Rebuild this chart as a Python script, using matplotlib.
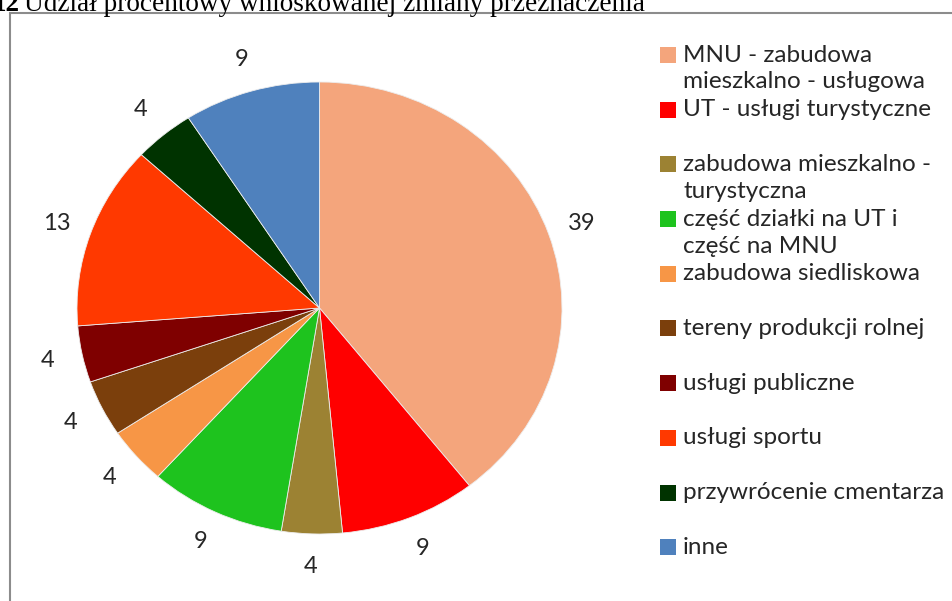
import matplotlib
matplotlib.use("Agg")
import matplotlib.pyplot as plt
from matplotlib.patches import Rectangle

categories = [
    "MNU - zabudowa\nmieszkalno - usługowa",
    "UT - usługi turystyczne",
    "zabudowa mieszkalno -\nturystyczna",
    "część działki na UT i\nczęść na MNU",
    "zabudowa siedliskowa",
    "tereny produkcji rolnej",
    "usługi publiczne",
    "usługi sportu",
    "przywrócenie cmentarza",
    "inne",
]
values = [39, 9, 4, 9, 4, 4, 4, 13, 4, 9]
colors = ["#F4A57C", "#FF0000", "#9C8233", "#1EC31E", "#F79646",
          "#7B3F0C", "#7F0000", "#FF3900", "#003300", "#4F81BD"]
title_num = "12"
title = "Udział procentowy wnioskowanej zmiany przeznaczenia"

W, H = 952, 601
fig = plt.figure(figsize=(W / 100, H / 100), dpi=100)

# frame
fig.patches.append(Rectangle((9.5 / W, -0.1), 1.2, 1 - 13 / H + 0.1,
                             transform=fig.transFigure, fill=False,
                             edgecolor="#8C8C8C", linewidth=1.5))

# title (clipped at the top like the reference)
fig.text(20 / W, 1 - 11 / H, title_num, fontfamily="Liberation Serif",
         fontweight="bold", fontsize=19.6, va="baseline", ha="right")
fig.text(24 / W, 1 - 11 / H, title, fontfamily="Liberation Serif",
         fontsize=19.6, va="baseline", ha="left")

cx, cy, rx, ry = 319.5, 308, 242.5, 226
ax = fig.add_axes([(cx - rx) / W, (H - cy - ry) / H, 2 * rx / W, 2 * ry / H])
total = sum(values)
wedges, texts, autotexts = ax.pie(
    values, colors=colors, startangle=90, counterclock=False,
    autopct=lambda p: f"{round(p * total / 100):d}", pctdistance=1.145,
    wedgeprops=dict(linewidth=0.6, edgecolor="#EDEDED"),
    textprops=dict(fontfamily="Lato", fontsize=17, color="#262626"))
ax.set_xlim(-1, 1)
ax.set_ylim(-1, 1)
ax.set_aspect("auto")
for t in autotexts:
    t.set_clip_on(False)

# legend (Excel-style, fixed slot per entry)
y0 = 55
step = 54.7
for i, (lab, col) in enumerate(zip(categories, colors)):
    y = y0 + i * step
    fig.patches.append(Rectangle((660 / W, 1 - (y + 8) / H), 16 / W, 16 / H,
                                 transform=fig.transFigure,
                                 facecolor=col, edgecolor="none"))
    lines = lab.split("\n")
    for k, ln in enumerate(lines):
        fig.text(683 / W, 1 - (y + k * 27) / H, ln, fontfamily="Lato",
                 fontsize=17.5, color="#262626", va="center", ha="left")

fig.savefig("out.png", dpi=100)
